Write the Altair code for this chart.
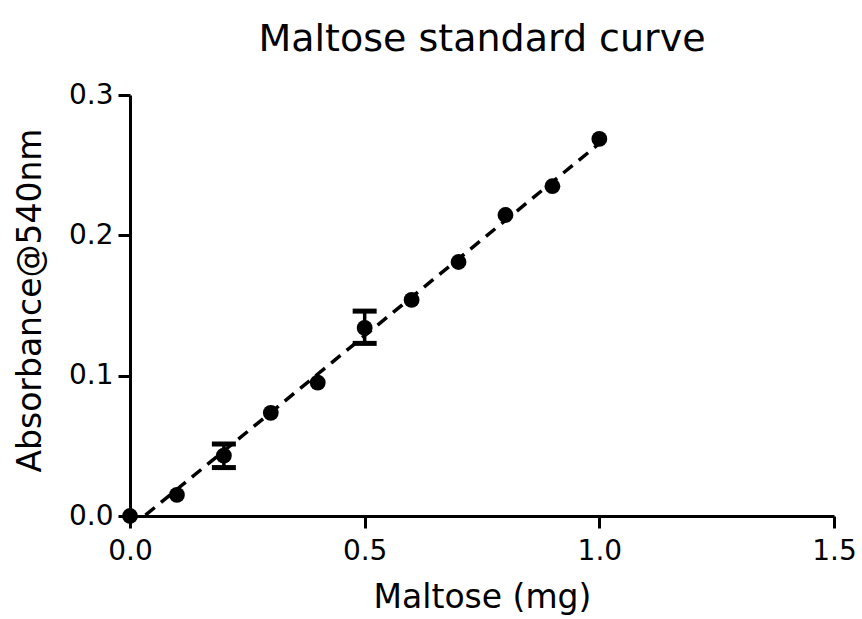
import altair as alt
import pandas as pd

maltose = [0.0, 0.1, 0.2, 0.3, 0.4, 0.5, 0.6, 0.7, 0.8, 0.9, 1.0]
absorbance = [0.0, 0.015, 0.043, 0.0735, 0.095, 0.134, 0.154, 0.181, 0.2145, 0.235, 0.2687]
err_x = [0.2, 0.5]
err_lo = [0.0345, 0.123]
err_hi = [0.0513, 0.146]

df = pd.DataFrame({"x": maltose, "y": absorbance})
edf = pd.DataFrame({"x": err_x, "lo": err_lo, "hi": err_hi})

FONT = "DejaVu Sans"
xs = alt.Scale(domain=[0, 1.5], nice=False, zero=False)
ys = alt.Scale(domain=[0, 0.3], nice=False, zero=False)

common = dict(grid=False, domainWidth=3, tickWidth=3, tickSize=12, domainColor="black",
              tickColor="black", labelFontSize=28, labelColor="black", labelFont=FONT,
              titleFont=FONT, titleFontSize=33, titleFontWeight="normal", titleColor="black",
              labelFlush=False, format=".1f")
xaxis = alt.Axis(values=[0, 0.5, 1.0, 1.5], title="Maltose (mg)",
                 labelPadding=9, titlePadding=16, **common)
yaxis = alt.Axis(values=[0, 0.1, 0.2, 0.3], title="Absorbance@540nm",
                 labelPadding=5, titlePadding=21, titleY=205, **common)

base = alt.Chart(df)

line = base.transform_regression("x", "y", extent=[0, 1.0]).mark_line(
    color="black", strokeWidth=3.5, strokeDash=[12, 8], clip=True
).encode(x=alt.X("x:Q", scale=xs, axis=xaxis), y=alt.Y("y:Q", scale=ys, axis=yaxis))

points = base.mark_circle(size=250, color="black", opacity=1).encode(
    x=alt.X("x:Q", scale=xs), y=alt.Y("y:Q", scale=ys)
)

ebase = alt.Chart(edf)
erule = ebase.mark_rule(color="black", strokeWidth=3.5, opacity=1).encode(
    x=alt.X("x:Q", scale=xs), y=alt.Y("lo:Q", scale=ys), y2="hi:Q"
)
cap_lo = ebase.mark_tick(color="black", thickness=5, size=24, orient="horizontal", opacity=1).encode(
    x=alt.X("x:Q", scale=xs), y=alt.Y("lo:Q", scale=ys)
)
cap_hi = ebase.mark_tick(color="black", thickness=5, size=24, orient="horizontal", opacity=1).encode(
    x=alt.X("x:Q", scale=xs), y=alt.Y("hi:Q", scale=ys)
)

chart = alt.layer(line, erule, cap_lo, cap_hi, points).properties(
    width=704, height=421,
    title=alt.Title("Maltose standard curve", font=FONT, fontSize=38, fontWeight="normal",
                    color="black", offset=22, anchor="middle"),
    autosize=alt.AutoSizeParams(type="none"),
    padding={"left": 130, "top": 95, "right": 28, "bottom": 103},
    background="white",
).configure_view(stroke=None)

chart.save("out.html", embed_options={"renderer": "svg", "actions": False})
